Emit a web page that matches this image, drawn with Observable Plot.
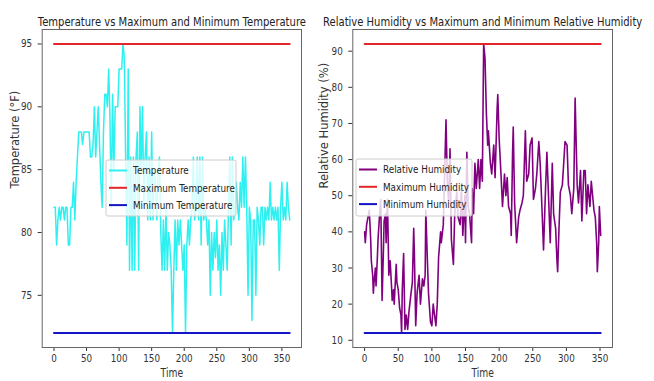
<!DOCTYPE html>
<html><head><meta charset="utf-8">
<script src="https://cdn.jsdelivr.net/npm/d3@7"></script>
<script src="https://cdn.jsdelivr.net/npm/@observablehq/plot@0.6"></script>
<style>
body{margin:0;background:#fff;}
#wrap{position:relative;width:654px;height:381px;overflow:hidden;background:#fff;font-family:"DejaVu Sans",sans-serif;}
#wrap svg{position:absolute;top:0;}
</style></head><body><div id="wrap"></div>
<script>
// ---- data ----
const tempDays = d3.range(0, 363, 2);
const temps = [82,82,79,81,82,81,82,82,81,82,82,79,79,82,82,84,81,84,86,88,
  88,88,87,88,88,88,88,88,86,86,87,90,86,88,90,87,84,82,88,91,
  91,90,93,89,82,91,85,90,90,90,93,93,93,95,94,86,79,93,77,86,
  77,86,77,86,88,77,90,85,90,82,86,88,81,86,81,88,81,85,84,81,
  85,86,80,77,81,77,82,77,80,79,77,72,77,81,77,81,79,81,79,77,
  79,72,79,81,79,81,82,86,81,82,86,81,86,79,86,81,82,81,79,81,
  75,80,77,80,78,81,77,79,75,80,77,81,79,77,82,86,79,86,81,82,
  84,82,81,84,82,86,82,86,82,75,82,81,73,81,81,75,82,81,79,82,
  82,79,82,81,82,81,84,81,82,81,82,81,82,77,82,84,81,82,81,84,
  82,81];
const humDays = [0,1,3,5,7,9,10,12,13,14,16,17,19,20,22,24,26,28,29,31,32,34,36,38,40,41,43,44,47,48,
  50,52,54,55,56,58,60,62,64,66,69,71,73,74,76,78,81,83,86,88,90,91,93,95,98,100,102,104,106,108,
  110,113,114,117,119,121,123,125,127,129,132,134,137,139,142,144,146,149,150,152,154,156,159,160,162,164,166,169,171,173,
  175,177,179,181,183,184,187,189,192,194,197,198,200,203,205,208,210,212,214,217,218,220,221,223,226,229,231,234,236,239,
  241,244,246,249,251,254,256,259,261,264,266,269,271,274,276,279,281,284,286,287,289,291,294,296,298,301,303,306,308,311,
  313,316,318,321,323,326,328,330,332,335,337,339,341,343,345,346,348,349,351];
const hums = [40,37,42,44,46,38,32,28,23,26,30,25,33,38,44,49,21,35,43,45,37,49,28,32,25,21,24,20,31,26,
  24,19,17,12,24,34,13,17,13,18,23,26,41,34,14,23,28,20,27,25,28,46,34,23,15,14,20,17,14,20,
  33,40,37,42,56,71,54,48,63,38,31,45,51,44,42,52,39,50,37,62,47,45,37,52,45,59,52,60,52,60,
  54,92,88,73,64,68,59,56,64,55,74,78,66,55,47,56,50,55,47,45,39,62,69,48,37,44,46,48,50,68,
  54,56,64,66,49,52,56,65,59,45,35,52,62,47,37,59,45,41,32,29,41,51,53,59,65,64,53,50,45,52,
  77,53,48,57,43,57,57,45,53,47,54,50,46,44,37,29,37,47,39];
const xTicks = [0,50,100,150,200,250,300,350];
const tempTicks = [75,80,85,90,95];
const humTicks = [10,20,30,40,50,60,70,80,90];
const tempLegend = ["Temperature","Maximum Temperature","Minimum Temperature"];
const humLegend = ["Relative Humidity","Maximum Humidity","Minimum Humidity"];

const RED = "#e3262a", BLUE = "#1515c8";
const wrap = document.getElementById("wrap");

function pad(ext){ const m = (ext[1]-ext[0])*0.05; return [ext[0]-m, ext[1]+m]; }

function panel(o){
  const series = o.days.map((d,i)=>({d, v:o.vals[i]}));
  const mx = d3.max(o.vals), mn = d3.min(o.vals);
  const maxLine = o.days.map(d=>({d, v:mx}));
  const minLine = o.days.map(d=>({d, v:mn}));
  const svg = Plot.plot({
    width: o.width, height: 381,
    marginLeft: o.ml, marginRight: o.mr, marginTop: 29, marginBottom: 34,
    style: {fontFamily:"DejaVu Sans", fontSize:"11px", color:"#333", background:"transparent", overflow:"visible"},
    x: {domain: pad(d3.extent(o.days)), ticks: xTicks, tickSize: 4, tickPadding: 3, label: null},
    y: {domain: pad([mn,mx]), ticks: o.yTicks, tickSize: 4, tickPadding: 6, label: null},
    marks: [
      Plot.line(series, {x:"d", y:"v", stroke:o.color, strokeWidth:o.sw}),
      Plot.line(maxLine, {x:"d", y:"v", stroke:RED, strokeWidth:2}),
      Plot.line(minLine, {x:"d", y:"v", stroke:BLUE, strokeWidth:2}),
      Plot.frame({stroke:"#666"}),
      Plot.text([o.title], {frameAnchor:"top", dy:-12, fontSize:12.5, fill:"#222"}),
      Plot.text([o.ylabel], {frameAnchor:"left", dx:o.ydx, rotate:-90, fontSize:11.5, fill:"#333", className:"ylab"}),
      Plot.text(["Time"], {frameAnchor:"bottom", dy:29, fontSize:11.5, fill:"#333"})
    ]
  });
  svg.style.left = o.left + "px";
  wrap.appendChild(svg);
  // legend
  const g = d3.select(svg).append("g").attr("text-anchor", "start");
  const b = o.box, bx = b.x - o.left;
  g.append("rect").attr("x", bx).attr("y", b.y).attr("width", b.w).attr("height", b.h)
    .attr("rx", 2).attr("fill", "white").attr("fill-opacity", 0.8).attr("stroke", "#ccc");
  const cols = [o.color, RED, BLUE];
  o.legend.forEach((lab,i)=>{
    const y = b.y + 10.5 + i*17.3;
    g.append("line").attr("x1", bx+3).attr("x2", bx+21).attr("y1", y).attr("y2", y)
      .attr("stroke", cols[i]).attr("stroke-width", 2);
    g.append("text").attr("x", bx+27).attr("y", y).attr("dy","0.35em").attr("text-anchor","start")
      .attr("font-size", 11).attr("fill", "#222").text(lab);
  });
  return svg;
}

panel({days:tempDays, vals:temps, color:"#2ef0f0", sw:1.5, yTicks:tempTicks, width:314, left:0, ml:41.7, mr:13,
  title:"Temperature vs Maximum and Minimum Temperature", ylabel:"Temperature (°F)", ydx:-27,
  legend:tempLegend, box:{x:106, y:160, w:130, h:56}});
panel({days:humDays, vals:hums, color:"#800080", sw:1.6, yTicks:humTicks, width:340, left:314, ml:38.3, mr:42,
  title:"Relative Humidity vs Maximum and Minimum Relative Humidity", ylabel:"Relative Humidity (%)", ydx:-28,
  legend:humLegend, box:{x:356, y:159, w:116, h:57}});

// horizontal compression of the reference's lettering
wrap.querySelectorAll("text").forEach(t=>{
  if (t.closest(".ylab")) return;
  const L = t.getComputedTextLength();
  if (L > 0) { t.setAttribute("textLength", L*0.8); t.setAttribute("lengthAdjust","spacingAndGlyphs"); }
});
</script></body></html>
